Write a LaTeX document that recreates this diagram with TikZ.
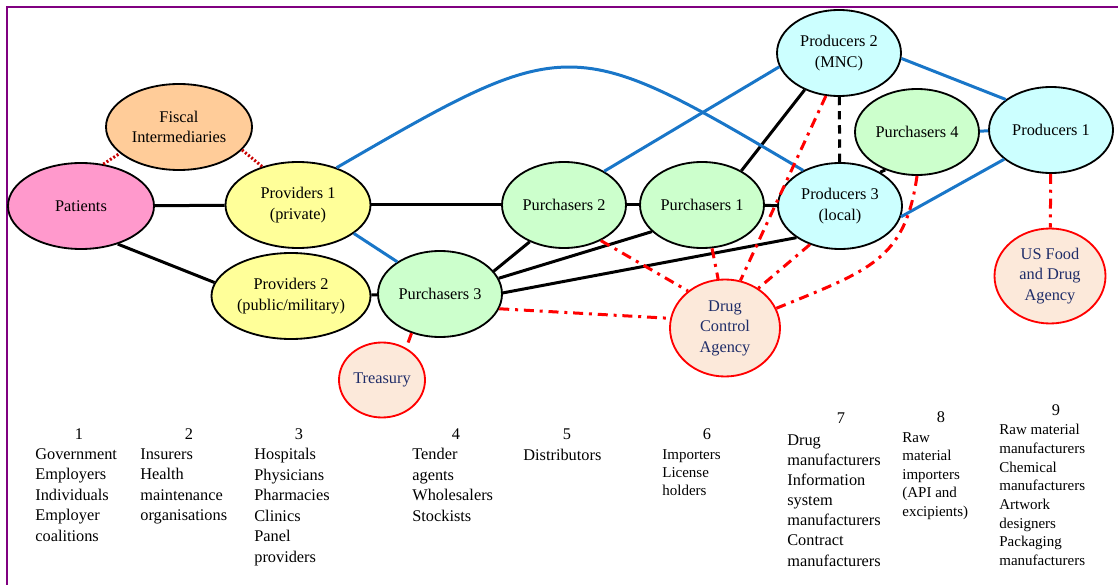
\documentclass[tikz,border=0pt]{standalone}
\usepackage{fontspec}
\setmainfont{Liberation Serif}
\usetikzlibrary{shapes.geometric}
\definecolor{framepurple}{RGB}{128,0,128}
\definecolor{patpink}{RGB}{255,153,204}
\definecolor{fiscorange}{RGB}{255,204,153}
\definecolor{provyellow}{RGB}{255,255,153}
\definecolor{purgreen}{RGB}{204,255,204}
\definecolor{prodcyan}{RGB}{204,255,255}
\definecolor{agencyfill}{RGB}{252,233,218}
\definecolor{agencytext}{RGB}{31,45,105}
\definecolor{linkblue}{RGB}{25,118,200}
\definecolor{dotred}{RGB}{200,0,0}
\begin{document}
\begin{tikzpicture}
  [x=0.6pt,y=-0.6pt,
   org/.style={ellipse,draw,line width=1.1pt,inner sep=0pt,align=center,
     minimum width=74.4pt,minimum height=51.6pt,font=\fontsize{9.8}{12.3}\selectfont},
   regulator/.style={org,draw=red,fill=agencyfill,text=agencytext},
   link/.style={line width=1.8pt},
   bluelink/.style={line width=1.8pt,draw=linkblue},
   control/.style={line width=1.8pt,draw=red,dash pattern=on 6pt off 3.5pt on 1.8pt off 3.5pt},
   fiscal/.style={line width=1.8pt,draw=dotred,dash pattern=on 1.2pt off 1.2pt},
   groupnum/.style={anchor=north,inner sep=0pt,font=\fontsize{9.8}{12.3}\selectfont},
   grouptext/.style={anchor=north west,inner sep=0pt,align=left,font=\fontsize{9.8}{12.3}\selectfont},
   smalltext/.style={grouptext,font=\fontsize{9}{11.1}\selectfont}]

  \useasboundingbox (0,0) rectangle (1118,585);
  \draw[framepurple,line width=1.2pt] (7,600) -- (7,7) -- (1130,7);

  \node[org,fill=fiscorange,minimum width=87.6pt] (fisc) at (179,127) {Fiscal\\Intermediaries};
  \node[org,fill=patpink,minimum width=87.6pt] (pat) at (81,206) {Patients};
  \node[org,fill=provyellow,minimum width=87pt] (prov1) at (298,205) {Providers 1\\(private)};
  \node[org,fill=provyellow,minimum width=95.4pt] (prov2) at (291,296) {Providers 2\\(public/military)};
  \node[org,fill=purgreen] (pur3) at (440,294) {Purchasers 3};
  \node[org,fill=purgreen] (pur2) at (564,205) {Purchasers 2};
  \node[org,fill=purgreen] (pur1) at (702,205) {Purchasers 1};
  \node[org,fill=purgreen] (pur4) at (917,132) {Purchasers 4};
  \node[org,fill=prodcyan] (prod3) at (840,206) {Producers 3\\(local)};
  \node[org,fill=prodcyan] (prod2) at (839,53) {Producers 2\\(MNC)};
  \node[org,fill=prodcyan] (prod1) at (1051,130) {Producers 1};
  \node[regulator,minimum width=51.6pt,minimum height=45pt] (treas) at (382,380) {Treasury};
  \node[regulator,minimum width=66pt,minimum height=58.2pt] (dca) at (725,328) {Drug\\Control\\Agency};
  \node[regulator,minimum width=66.6pt,minimum height=57pt] (fda) at (1050,276) {US Food\\and Drug\\Agency};

  \path[draw,link]
     (pat) edge (prov1)
     (pat.-46) edge (prov2.170)
     (prov1) edge (pur2)
     (prov2) edge (pur3)
     (pur2) edge (pur1)
     (pur1) edge (prod3)
     (pur3.23) edge (pur2.-133)
     (pur3.15) edge (pur1.-152)
     (pur3.1) edge (prod3.-144)
     (pur1.41) edge (prod2.-133)
     (prod3.40) edge (pur4.-130);
  \path[draw,link,dash pattern=on 5pt off 3.5pt] (prod2) edge (prod3);

  \path[bluelink]
     (prov1.-27) edge (pur3.143)
     (pur2.40) edge (prod2.-167)
     (prod2.-5) edge (prod1.146)
     (pur4) edge (prod1)
     (prod3.-10) edge (prod1.-148);
  \draw[bluelink] (prov1.44) .. controls (569,33) and (571,33) .. (prod3.136);

  \path[fiscal]
     (pat.62) edge (fisc.-156)
     (fisc.-20) edge (prov1.133);

  \path[control]
     (pur3.-14) edge (dca.170)
     (pur2.-44) edge (dca.135)
     (pur1.-77) edge (dca.98)
     (prod2.-107) edge (dca.72)
     (prod3.-128) edge (dca.50)
     (prod1) edge (fda)
     (pur3.-126) edge (treas.53);
  \draw[control] (pur4.south) .. controls (905,260) and (870,270) .. (dca.21);

  \node[groupnum] (num1) at (79,428) {1};
  \node[groupnum] (num2) at (189,428) {2};
  \node[groupnum] (num3) at (299,428) {3};
  \node[groupnum] (num4) at (456,428) {4};
  \node[groupnum] (num5) at (567,428) {5};
  \node[groupnum] (num6) at (707,428) {6};
  \node[groupnum] (num7) at (841,412) {7};
  \node[groupnum] (num8) at (941,411) {8};
  \node[groupnum] (num9) at (1056,404) {9};

  \node[grouptext] (grp1) at (35,448) {Government\\Employers\\Individuals\\Employer\\coalitions};
  \node[grouptext] (grp2) at (140,448) {Insurers\\Health\\maintenance\\organisations};
  \node[grouptext] (grp3) at (254,448) {Hospitals\\Physicians\\Pharmacies\\Clinics\\Panel\\providers};
  \node[grouptext] (grp4) at (412,448) {Tender\\agents\\Wholesalers\\Stockists};
  \node[grouptext] (grp5) at (523,449) {Distributors};
  \node[smalltext,font=\fontsize{9}{10.8}\selectfont] (grp6) at (662,449) {Importers\\License\\holders};
  \node[grouptext,font=\fontsize{9.8}{12.1}\selectfont] (grp7) at (787,434) {Drug\\manufacturers\\Information\\system\\manufacturers\\Contract\\manufacturers};
  \node[smalltext] (grp8) at (902,432) {Raw\\material\\importers\\(API and\\excipients)};
  \node[smalltext,font=\fontsize{9}{11.2}\selectfont] (grp9) at (999,424) {Raw material\\manufacturers\\Chemical\\manufacturers\\Artwork\\designers\\Packaging\\manufacturers};

\end{tikzpicture}
\end{document}
